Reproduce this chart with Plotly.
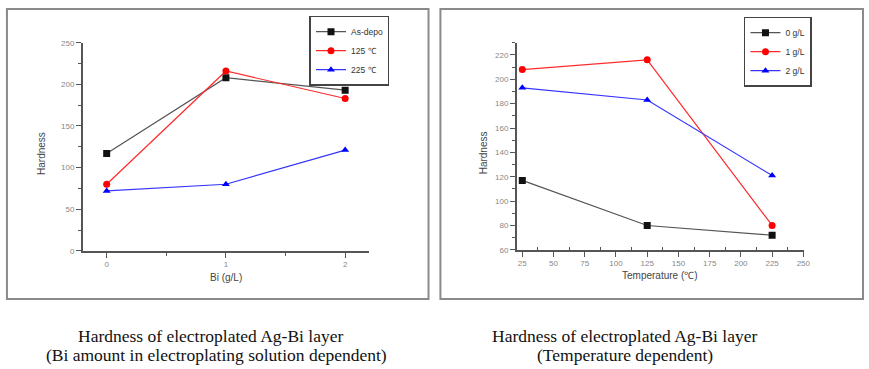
import plotly.graph_objects as go

W, H = 869, 369

# Left chart data: hardness vs Bi amount
bi_amount = [0, 1, 2]
left_names = ["As-depo", "125 ℃", "225 ℃"]
as_depo = [117, 208, 193]
t125 = [80, 216, 183]
t225 = [72, 80, 121]

# Right chart data: hardness vs temperature
temperature = [25, 125, 225]
right_names = ["0 g/L", "1 g/L", "2 g/L"]
bi0 = [117, 80, 72]
bi1 = [208, 216, 80]
bi2 = [193, 183, 121]

colors = ["#111111", "#ff0000", "#0000ff"]
line_colors = ["#555555", "#ff2a2a", "#3535ff"]
symbols = ["square", "circle", "triangle-up"]

def px(x):
    return x / W

def py(y):
    return 1 - y / H

fig = go.Figure()

for i, (name, vals) in enumerate(zip(left_names, [as_depo, t125, t225])):
    fig.add_trace(go.Scatter(
        x=bi_amount, y=vals, name=name, mode="lines+markers",
        line=dict(color=line_colors[i], width=1.2),
        marker=dict(color=colors[i], symbol=symbols[i], size=7),
        xaxis="x", yaxis="y", legend="legend",
    ))

for i, (name, vals) in enumerate(zip(right_names, [bi0, bi1, bi2])):
    fig.add_trace(go.Scatter(
        x=temperature, y=vals, name=name, mode="lines+markers",
        line=dict(color=line_colors[i], width=1.2),
        marker=dict(color=colors[i], symbol=symbols[i], size=7),
        xaxis="x2", yaxis="y2", legend="legend2",
    ))

axis_common = dict(
    showline=True, linecolor="#555555", linewidth=1.5, mirror=False,
    ticks="outside", ticklen=5, tickcolor="#555555", tickwidth=1.2,
    showgrid=False, zeroline=False,
    tickfont=dict(family="Arial, Liberation Sans, sans-serif", size=8, color="#888888"),
)

legend_common = dict(
    xanchor="left", yanchor="top",
    bgcolor="white", bordercolor="#444444", borderwidth=1.5,
    font=dict(family="Arial, Liberation Sans, sans-serif", size=8.5, color="#333333"),
    itemwidth=30, tracegroupgap=0,
)

fig.update_layout(
    width=W, height=H,
    margin=dict(l=0, r=0, t=0, b=0),
    paper_bgcolor="white", plot_bgcolor="white",
    showlegend=True,
    xaxis=dict(domain=[px(83.5), px(372)], range=[-0.2, 2.2], anchor="y",
               tickvals=[0, 1, 2],
               minor=dict(tickvals=[0.5, 1.5], ticks="outside", ticklen=3, tickcolor="#555555"),
               **axis_common),
    yaxis=dict(domain=[py(253), py(39.7)], range=[0, 250], anchor="x",
               tickvals=[0, 50, 100, 150, 200, 250],
               minor=dict(tickvals=[25, 75, 125, 175, 225], ticks="outside", ticklen=3, tickcolor="#555555"),
               **axis_common),
    xaxis2=dict(domain=[px(521), px(810.5)], range=[20.6, 250.5], anchor="y2",
                tickvals=[25, 50, 75, 100, 125, 150, 175, 200, 225, 250],
                minor=dict(tickvals=[37.5 + 25 * k for k in range(9)], ticks="inside", ticklen=3, tickcolor="#555555"),
                **axis_common),
    yaxis2=dict(domain=[py(252), py(39.7)], range=[60, 230], anchor="x2",
                tickvals=[60, 80, 100, 120, 140, 160, 180, 200, 220],
                minor=dict(tickvals=[70 + 20 * k for k in range(9)], ticks="outside", ticklen=3, tickcolor="#555555"),
                **axis_common),
    legend=dict(x=px(312), y=py(12), **legend_common),
    legend2=dict(x=px(750), y=py(13), **legend_common),
)

# Panel borders
for x0, x1 in [(7, 432), (444, 870)]:
    fig.add_shape(type="rect", xref="paper", yref="paper",
                  x0=px(x0), x1=px(x1), y0=py(302.5), y1=py(5),
                  line=dict(color="#8a8a8a", width=2), layer="below")

title_font = dict(family="Arial, Liberation Sans, sans-serif", size=10, color="#444444")
annots = [
    dict(text="Hardness", x=px(42), y=py(153), textangle=-90, font=title_font),
    dict(text="Bi (g/L)", x=px(228), y=py(280), font=title_font),
    dict(text="Hardness", x=px(487), y=py(153), textangle=-90, font=title_font),
    dict(text="Temperature (℃)", x=px(665), y=py(278), font=title_font),
]
cap_font = dict(family="Liberation Serif, Times New Roman, serif", size=17.5, color="#111111")
annots += [
    dict(text="Hardness of electroplated Ag-Bi layer", x=px(212), y=py(340), font=cap_font),
    dict(text="(Bi amount in electroplating solution dependent)", x=px(218), y=py(360), font=cap_font),
    dict(text="Hardness of electroplated Ag-Bi layer", x=px(630), y=py(340), font=cap_font),
    dict(text="(Temperature dependent)", x=px(630), y=py(360), font=cap_font),
]
for a in annots:
    fig.add_annotation(xref="paper", yref="paper", showarrow=False,
                       xanchor="center", yanchor="middle", **a)

fig.write_html("out.html")
